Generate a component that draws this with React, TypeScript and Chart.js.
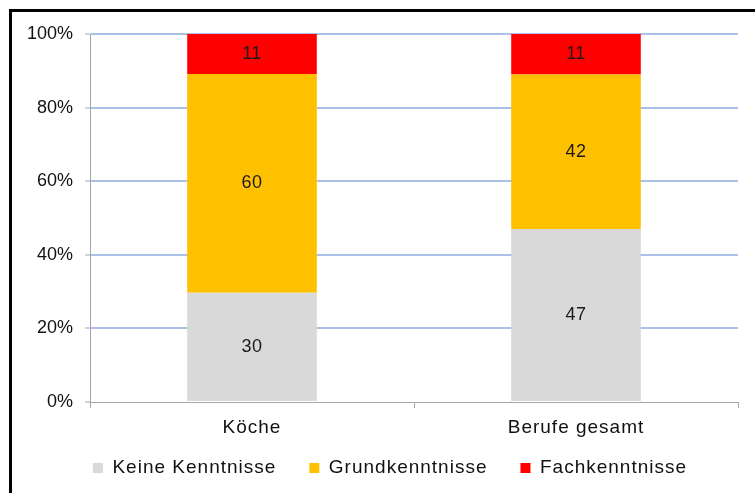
import React, { useEffect, useRef } from 'react';
import { Chart, registerables } from 'chart.js';

Chart.register(...registerables);

// ---- data ----
const categories = ['Köche', 'Berufe gesamt'];
const seriesNames = ['Keine Kenntnisse', 'Grundkenntnisse', 'Fachkenntnisse'];
const keineKenntnisse = [30, 47];
const grundkenntnisse = [60, 42];
const fachkenntnisse = [11, 11];
const seriesColors = ['#d9d9d9', '#ffc000', '#ff0000'];
const yTickMax = 100;
const yTickStep = 20;

const FONT = '"Liberation Sans", Arial, Helvetica, sans-serif';
const rawSeries = [keineKenntnisse, grundkenntnisse, fachkenntnisse];

// 100% stacked: each value as share of its category total
const totals = categories.map((_, i) => rawSeries.reduce((s, arr) => s + arr[i], 0));
const shares = rawSeries.map((arr) => arr.map((v, i) => (v / totals[i]) * 100));

const setSpacing = (chart: any) => {
  chart.ctx.letterSpacing = '1px';
};

const layoutPlugin = {
  id: 'layoutTweaks',
  beforeUpdate(chart: any) {
    setSpacing(chart);
  },
  beforeLayout(chart: any) {
    setSpacing(chart);
    const lg = chart.legend;
    if (lg && !lg._patchedFit) {
      const orig = lg.fit;
      lg.fit = function () {
        orig.call(this);
        this.height = 51;
      };
      lg._patchedFit = true;
    }
  },
  afterLayout(chart: any) {
    const lg = chart.legend;
    if (lg) {
      // legend text row centred at y≈468, items centred at x≈390
      lg.top = 425.5;
      lg.bottom = lg.top + lg.height;
      lg.left = 42;
      lg.right = 738;
      lg.width = lg.right - lg.left;
    }
    const ys = chart.scales.y;
    if (ys && !ys._patchedLabels) {
      const origDraw = ys.drawLabels;
      ys.drawLabels = function (area: any) {
        const c = this.ctx;
        const prev = c.letterSpacing;
        c.letterSpacing = '0px';
        origDraw.call(this, area);
        c.letterSpacing = prev;
      };
      ys._patchedLabels = true;
    }
  },
  beforeDraw(chart: any) {
    setSpacing(chart);
  },
};

const valueLabelsPlugin = {
  id: 'valueLabels',
  afterDatasetsDraw(chart: any) {
    const ctx = chart.ctx;
    ctx.save();
    ctx.letterSpacing = '0.5px';
    ctx.font = `18px ${FONT}`;
    ctx.fillStyle = '#1a1a1a';
    ctx.textAlign = 'center';
    ctx.textBaseline = 'middle';
    chart.data.datasets.forEach((_: any, di: number) => {
      const meta = chart.getDatasetMeta(di);
      meta.data.forEach((el: any, i: number) => {
        const { x, y, base } = el.getProps(['x', 'y', 'base'], true);
        ctx.fillText(String(rawSeries[di][i]), x, (y + base) / 2);
      });
    });
    ctx.restore();
  },
};

export default function App() {
  const canvasRef = useRef<HTMLCanvasElement | null>(null);

  useEffect(() => {
    document.body.style.margin = '0';
    const canvas = canvasRef.current;
    if (!canvas) return;
    Chart.defaults.font.family = FONT;
    const chart = new Chart(canvas, {
      type: 'bar',
      data: {
        labels: categories,
        datasets: seriesNames.map((name, i) => ({
          label: name,
          data: shares[i],
          backgroundColor: seriesColors[i],
          borderWidth: 0,
          barPercentage: 0.4,
          categoryPercentage: 1,
        })),
      },
      options: {
        responsive: false,
        animation: false,
        layout: { padding: { top: 34, left: 0, right: 17, bottom: 0 } },
        plugins: {
          tooltip: { enabled: false },
          legend: {
            position: 'bottom',
            labels: {
              boxWidth: 10,
              boxHeight: 10,
              padding: 33,
              color: '#111',
              font: { size: 19, family: FONT },
            },
          },
        },
        scales: {
          x: {
            stacked: true,
            grid: {
              display: true,
              drawOnChartArea: false,
              drawTicks: true,
              tickLength: 6,
              color: '#a6a6a6',
              offset: true,
            },
            border: { color: '#a6a6a6', width: 1 },
            ticks: { color: '#111', padding: 8, font: { size: 19, family: FONT } },
            afterFit: (scale: any) => {
              scale.height = 40;
            },
          },
          y: {
            stacked: true,
            min: 0,
            max: yTickMax,
            ticks: {
              stepSize: yTickStep,
              color: '#111',
              padding: 12,
              font: { size: 18, family: FONT },
              callback: (v: any) => `${v}%`,
            },
            grid: {
              color: (c: any) => (c.tick && c.tick.value === 0 ? 'rgba(0,0,0,0)' : '#abc2e8'),
              lineWidth: 2,
              tickColor: '#a6a6a6',
              tickWidth: 1,
              tickLength: 5,
            },
            border: { color: '#a6a6a6', width: 1 },
            afterFit: (scale: any) => {
              scale.width = 90;
            },
          },
        },
      },
      plugins: [layoutPlugin, valueLabelsPlugin],
    } as any);
    return () => chart.destroy();
  }, []);

  return (
    <div style={{ position: 'relative', width: 755, height: 493, overflow: 'hidden', background: '#fff' }}>
      <div
        style={{
          position: 'absolute',
          left: 9,
          top: 9,
          width: 800,
          height: 600,
          borderLeft: '3px solid #000',
          borderTop: '3px solid #000',
        }}
      />
      <canvas
        ref={canvasRef}
        width={755}
        height={493}
        style={{ position: 'absolute', left: 0, top: 0, width: 755, height: 493 }}
      />
    </div>
  );
}
